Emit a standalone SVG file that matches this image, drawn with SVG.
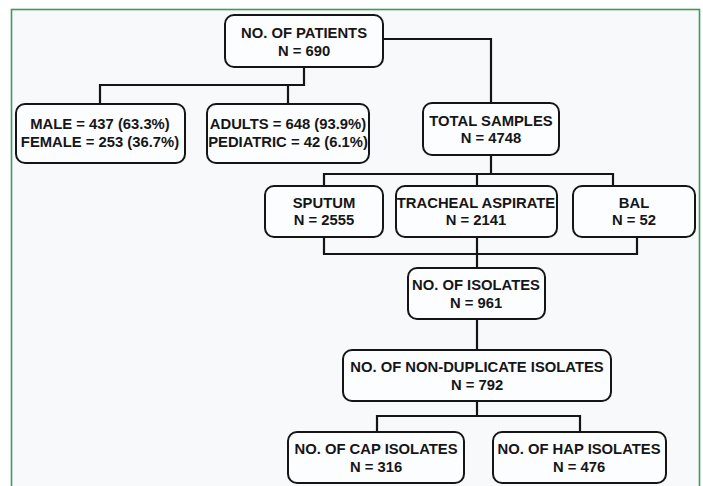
<svg xmlns="http://www.w3.org/2000/svg" width="703" height="486" viewBox="0 0 703 486">
  <style>
    .bg { fill: #ffffff; }
    .frame { fill: #f7f9fb; stroke: #3f9a5c; stroke-width: 1.6; }
    .box { fill: #fcfdfe; stroke: #151515; stroke-width: 2; }
    .wire { fill: none; stroke: #151515; stroke-width: 2.2; stroke-linejoin: miter; }
    text { font-family: "Liberation Sans", Arial, sans-serif; font-weight: bold; font-size: 14.8px; fill: #161616; text-anchor: middle; }
  </style>
  <rect class="bg" x="0" y="0" width="703" height="486"/>
  <rect class="frame" x="11.5" y="9.5" width="688" height="490"/>

  <g id="connectors">
    <path class="wire" d="M383 39 H491 V103"/>
    <path class="wire" d="M304 67 V85 H100 V104"/>
    <path class="wire" d="M288 85 V104"/>
    <path class="wire" d="M491 155 V174"/>
    <path class="wire" d="M324 186 V174 H613 V185"/>
    <path class="wire" d="M477 174 V185"/>
    <path class="wire" d="M324 237 V254 H637 V237"/>
    <path class="wire" d="M477 237 V268"/>
    <path class="wire" d="M477 319 V350"/>
    <path class="wire" d="M477 401 V416"/>
    <path class="wire" d="M377 432 V416 H580 V432"/>
  </g>

  <g id="patients">
    <rect class="box" x="225" y="15" width="158" height="52" rx="9"/>
    <text x="304" y="38">NO. OF PATIENTS</text>
    <text x="304" y="56">N = 690</text>
  </g>
  <g id="gender">
    <rect class="box" x="16" y="104" width="169" height="59" rx="9"/>
    <text x="100" y="129">MALE = 437 (63.3%)</text>
    <text x="100" y="147">FEMALE = 253 (36.7%)</text>
  </g>
  <g id="age">
    <rect class="box" x="207" y="104" width="162" height="59" rx="9"/>
    <text x="288" y="129">ADULTS = 648 (93.9%)</text>
    <text x="288" y="147">PEDIATRIC = 42 (6.1%)</text>
  </g>
  <g id="total-samples">
    <rect class="box" x="423" y="103" width="136" height="52" rx="9"/>
    <text x="491" y="126">TOTAL SAMPLES</text>
    <text x="491" y="143">N = 4748</text>
  </g>
  <g id="sputum">
    <rect class="box" x="265" y="186" width="118" height="51" rx="9"/>
    <text x="324" y="208">SPUTUM</text>
    <text x="324" y="225">N = 2555</text>
  </g>
  <g id="tracheal-aspirate">
    <rect class="box" x="396" y="186" width="161" height="51" rx="9"/>
    <text x="476" y="208">TRACHEAL ASPIRATE</text>
    <text x="476" y="225">N = 2141</text>
  </g>
  <g id="bal">
    <rect class="box" x="573" y="186" width="122" height="51" rx="9"/>
    <text x="634" y="208">BAL</text>
    <text x="634" y="225">N = 52</text>
  </g>
  <g id="isolates">
    <rect class="box" x="408" y="268" width="137" height="51" rx="9"/>
    <text x="476" y="290">NO. OF ISOLATES</text>
    <text x="476" y="308">N = 961</text>
  </g>
  <g id="non-duplicate">
    <rect class="box" x="343" y="350" width="268" height="51" rx="9"/>
    <text x="477" y="372">NO. OF NON-DUPLICATE ISOLATES</text>
    <text x="477" y="390">N = 792</text>
  </g>
  <g id="cap">
    <rect class="box" x="288" y="432" width="176" height="51" rx="9"/>
    <text x="376" y="454">NO. OF CAP ISOLATES</text>
    <text x="376" y="472">N = 316</text>
  </g>
  <g id="hap">
    <rect class="box" x="493" y="432" width="173" height="51" rx="9"/>
    <text x="579" y="454">NO. OF HAP ISOLATES</text>
    <text x="579" y="472">N = 476</text>
  </g>
</svg>
